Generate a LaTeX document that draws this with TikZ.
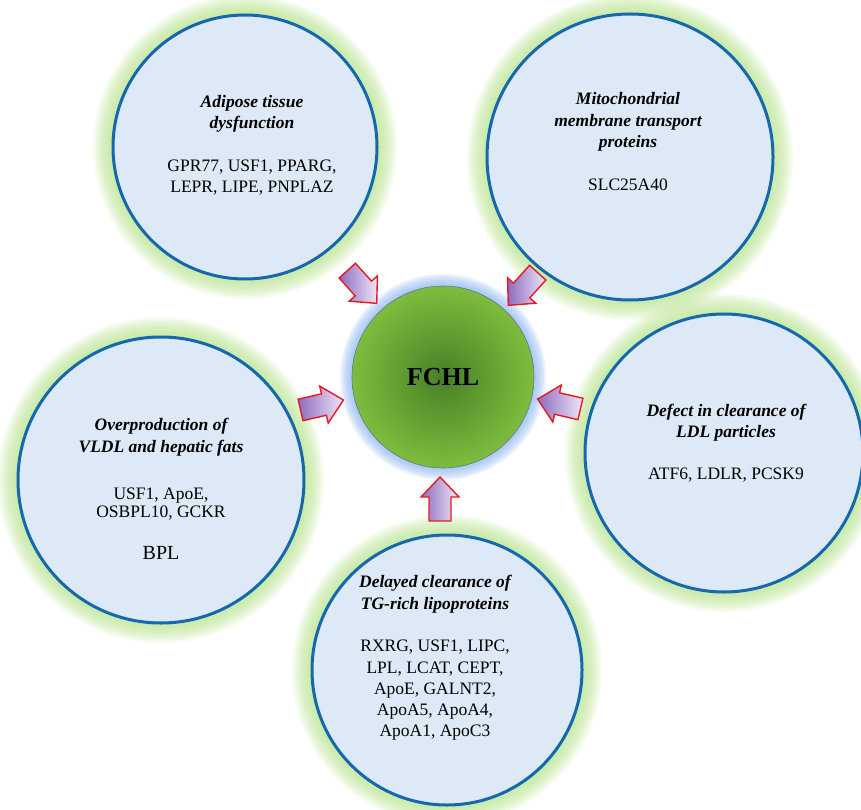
\documentclass[tikz,border=0pt]{standalone}
\usepackage{fontspec}
\setmainfont{Liberation Serif}
\definecolor{ringblue}{RGB}{22,104,174}
\definecolor{bubblefill}{RGB}{221,233,246}
\definecolor{glowgreen}{RGB}{176,224,130}
\definecolor{glowblue}{RGB}{130,175,240}
\definecolor{fchlouter}{RGB}{126,188,62}
\definecolor{fchlinner}{RGB}{72,128,38}
\definecolor{fchledge}{RGB}{95,120,140}
\definecolor{arrowred}{RGB}{228,28,34}
\definecolor{arrowdark}{RGB}{140,108,190}
\definecolor{arrowlight}{RGB}{240,230,248}
\tikzset{
  glowring/.style={fill=glowgreen, fill opacity=0.11, draw=none},
  fchlglow/.style={fill=glowblue, fill opacity=0.16, draw=none},
  bubble/.style={circle, draw=ringblue, line width=3pt, fill=bubblefill, inner sep=0pt},
  titletext/.style={align=center, font=\fontsize{17.5}{21.5}\selectfont\bfseries\itshape},
  genetext/.style={align=center, font=\fontsize{17.5}{21.5}\selectfont},
  bigarrow/.style={draw=arrowred, line width=1.4pt, left color=arrowdark, right color=arrowlight, line join=miter},
}
\newcommand\fatarrow[4]{%
  \begin{scope}[shift={(#1,#2)}, rotate=#3]
    \coordinate (#4) at (0,0);
    \draw[bigarrow] (-22,-11) -- (2,-11) -- (2,-19) -- (22,0) -- (2,19) -- (2,11) -- (-22,11) -- cycle;
  \end{scope}}
\begin{document}
\begin{tikzpicture}[x=1pt,y=-1pt]
\useasboundingbox (0,0) rectangle (861,810);
\clip (0,0) rectangle (861,810);
% green halos
\foreach \cx/\cy/\r in {245/147/132, 630/157/143, 161/480/143, 724/453/139, 447/670/135}{
  \foreach \k in {1,...,10}{\fill[glowring] (\cx,\cy) circle[radius={(\r+2*\k)*1pt}];}
}
% outer bubbles
\node[bubble, minimum size=264pt] (adipose) at (245,147) {};
\node[bubble, minimum size=286pt] (mito) at (630,157) {};
\node[bubble, minimum size=286pt] (vldl) at (161,480) {};
\node[bubble, minimum size=278pt] (ldl) at (724,453) {};
\node[bubble, minimum size=270pt] (tg) at (447,670) {};
% centre
\foreach \k in {1,...,6}{\fill[fchlglow] (443,377) circle[radius={(91+2*\k)*1pt}];}
\node[circle, minimum size=182pt, inner sep=0pt, draw=fchledge, line width=0.6pt,
      inner color=fchlinner, outer color=fchlouter] (fchl) at (443,377) {};
\node[font=\fontsize{26}{30}\selectfont\bfseries] at (fchl.center) {FCHL};
% arrows
\fatarrow{362}{287}{-48}{arTL}
\fatarrow{523}{289}{-132}{arTR}
\fatarrow{322}{405}{13}{arL}
\fatarrow{559}{404}{167}{arR}
\fatarrow{440}{499}{90}{arB}
% texts
\node[titletext] (adiposeT) at (252,114) {Adipose tissue\\dysfunction};
\node[genetext] (adiposeG) at (252,177.5) {GPR77, USF1, PPARG,\\LEPR, LIPE, PNPLAZ};
\node[titletext] (mitoT) at (628,122) {Mitochondrial\\membrane transport\\proteins};
\node[genetext] (mitoG) at (628,185) {SLC25A40};
\node[titletext] (vldlT) at (161,437) {Overproduction of\\VLDL and hepatic fats};
\node[genetext, font=\fontsize{17.5}{18}\selectfont] (vldlG) at (161,504) {USF1, ApoE,\\OSBPL10, GCKR};
\node[genetext, font=\fontsize{20}{22}\selectfont] (vldlB) at (161,553) {BPL};
\node[titletext] (ldlT) at (726,422.5) {Defect in clearance of\\LDL particles};
\node[genetext] (ldlG) at (726,475) {ATF6, LDLR, PCSK9};
\node[titletext] (tgT) at (435,594) {Delayed clearance of\\TG-rich lipoproteins};
\node[genetext, font=\fontsize{17.5}{21.25}\selectfont] (tgG) at (435,690.5) {RXRG, USF1, LIPC,\\LPL, LCAT, CEPT,\\ApoE, GALNT2,\\ApoA5, ApoA4,\\ApoA1, ApoC3};
\end{tikzpicture}
\end{document}
